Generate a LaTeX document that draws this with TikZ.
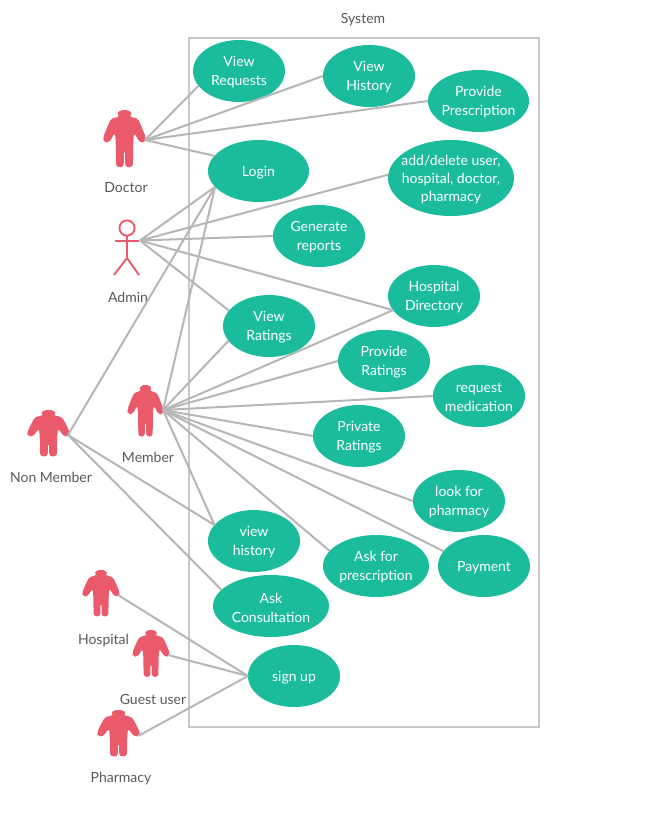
\documentclass[tikz,border=0pt]{standalone}
\usepackage{fontspec}
\setmainfont{Lato}
\usetikzlibrary{shapes.geometric}
\definecolor{teal1}{HTML}{1ABC9C}
\definecolor{red1}{HTML}{EB5A6A}
\definecolor{line1}{HTML}{B6B6B6}
\definecolor{box1}{HTML}{C8C8C8}
\definecolor{text1}{HTML}{595959}
\tikzset{
  px/.style={x=0.75pt,y=-0.75pt},
  usecase/.style={ellipse,fill=teal1,inner sep=0pt,outer sep=0pt},
  uctext/.style={text=white,align=center,yshift=-1.1pt,font=\fontsize{10.5pt}{14.2pt}\selectfont},
  actorlabel/.style={text=text1,inner sep=0pt,font=\fontsize{10.5pt}{14pt}\selectfont},
  conn/.style={draw=line1,line width=1.5pt},
  sysbox/.style={draw=box1,line width=1.5pt},
  actorbody/.style={fill=red1,rounded corners=2.3pt},
  stick/.style={draw=red1,line width=1.4pt,fill=none}
}
% name, cx, cy, rx, ry, text
\newcommand{\usecasenode}[6]{%
  \node[usecase,minimum width=#4*1.5pt,minimum height=#5*1.5pt,
        label={[uctext]center:{#6}}] (#1) at (#2,#3) {};}
% cx, top, half width, height
\newcommand{\bodyshape}[4]{%
  \fill[actorbody,shift={(#1,#2)},x=#3*0.75pt,y=-#4*0.75pt]
    (-0.26,0.08) -- (0.26,0.08) -- (0.26,0.13)
    -- (0.64,0.14) -- (0.80,0.25) -- (1.08,0.50) -- (1.02,0.58) -- (0.76,0.58)
    -- (0.48,0.40) -- (0.44,0.55) -- (0.42,1.02) -- (0.04,1.02) -- (0.03,0.72)
    -- (-0.03,0.72) -- (-0.04,1.02) -- (-0.42,1.02) -- (-0.44,0.55) -- (-0.48,0.40)
    -- (-0.76,0.58) -- (-1.02,0.58) -- (-1.08,0.50) -- (-0.80,0.25) -- (-0.64,0.14)
    -- (-0.26,0.13) -- cycle
    (0,0.065) ellipse [x radius=0.34,y radius=0.065];}
\begin{document}
\begin{tikzpicture}[px]
\useasboundingbox (0,0) rectangle (666,829);
\fill[white] (0,0) rectangle (666,829);
% system boundary
\node[actorlabel] (systitle) at (363,20) {System};
\coordinate (boxa) at (189,37.5);
\coordinate (boxb) at (539,727);
\draw[sysbox] (boxa) rectangle (boxb);
% use cases
\usecasenode{vr}{239}{71}{46}{31}{View\\Requests}
\usecasenode{vh}{369}{76}{46}{31}{View\\History}
\usecasenode{pp}{478.5}{101}{50.5}{31}{Provide\\Prescription}
\usecasenode{login}{258.5}{171}{50.5}{31}{Login}
\usecasenode{adu}{451}{178}{63}{38}{add/delete user,\\[-0.8pt]hospital, doctor,\\[-0.8pt]pharmacy}
\usecasenode{gr}{319}{236}{46}{31}{Generate\\reports}
\usecasenode{hd}{434}{296}{46}{31}{Hospital\\Directory}
\usecasenode{vrt}{269}{326}{46}{31}{View\\Ratings}
\usecasenode{prt}{384}{361}{46}{31}{Provide\\Ratings}
\usecasenode{rm}{479}{396}{46}{31}{request\\medication}
\usecasenode{pvr}{359}{436}{46}{31}{Private\\Ratings}
\usecasenode{lp}{459}{501}{46}{31}{look for\\pharmacy}
\usecasenode{pay}{484}{566}{46}{31}{Payment}
\usecasenode{ap}{376}{566}{53}{31}{Ask for\\prescription}
\usecasenode{vh2}{254}{541}{46}{31}{view\\history}
\usecasenode{ac}{271}{606}{58}{31}{Ask\\Consultation}
\usecasenode{su}{294}{676}{46}{31}{sign up}
% actors
\bodyshape{124.5}{110}{20}{56}
\bodyshape{145.5}{385}{17}{50.5}
\bodyshape{48.5}{410}{20}{45.5}
\bodyshape{101}{570}{17.5}{45.5}
\bodyshape{151}{630}{17.5}{46}
\bodyshape{118.5}{710}{20}{45.5}
\draw[stick] (127,228) circle (7.6);
\draw[stick] (115,241) -- (139,241);
\draw[stick] (127,236) -- (127,258) -- (114,275);
\draw[stick] (127,258) -- (139,275);
\node[actorlabel] (ldoctor) at (126,188) {Doctor};
\node[actorlabel] (ladmin) at (128,297) {Admin};
\node[actorlabel] (lmember) at (148,457) {Member};
\node[actorlabel] (lnon) at (51,477) {Non Member};
\node[actorlabel] (lhosp) at (103.5,641) {Hospital};
\node[actorlabel] (lguest) at (153,699) {Guest user};
\node[actorlabel] (lpharm) at (121,779) {Pharmacy};
\coordinate (doctor) at (145,140);
\coordinate (admin) at (140,240.5);
\coordinate (member) at (163,410);
\coordinate (non) at (68,435);
\coordinate (hosp) at (118,595);
\coordinate (guest) at (168,655);
\coordinate (pharm) at (138,736);
% connectors
\draw[conn] (doctor) -- (vr.200);
\draw[conn] (doctor) -- (vh.180);
\draw[conn] (doctor) -- (pp.180);
\draw[conn] (doctor) -- (login.161);
\draw[conn] (admin) -- (login.200);
\draw[conn] (admin) -- (adu.177);
\draw[conn] (admin) -- (gr.180);
\draw[conn] (admin) -- (hd.199.6);
\draw[conn] (admin) -- (vrt.159);
\draw[conn] (member) -- (login.200);
\draw[conn] (member) -- (vrt.200.6);
\draw[conn] (member) -- (hd.199.6);
\draw[conn] (member) -- (prt.180);
\draw[conn] (member) -- (rm.180);
\draw[conn] (member) -- (pvr.180);
\draw[conn] (member) -- (lp.180);
\draw[conn] (member) -- (pay.160);
\draw[conn] (member) -- (ap.162.6);
\draw[conn] (member) -- (vh2.158.7);
\draw[conn] (non) -- (login.200);
\draw[conn] (non) -- (vh2.158.7);
\draw[conn] (non) -- (ac.162);
\draw[conn] (hosp) -- (su.180);
\draw[conn] (guest) -- (su.180);
\draw[conn] (pharm) -- (su.180);
\end{tikzpicture}
\end{document}
